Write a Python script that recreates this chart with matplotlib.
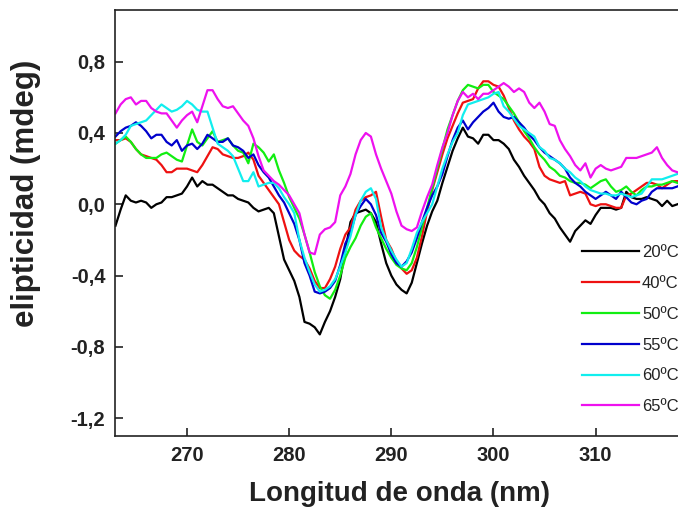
import numpy as np
import matplotlib
matplotlib.use("Agg")
import matplotlib.pyplot as plt

plt.rcParams['font.family'] = ['Liberation Sans', 'DejaVu Sans']

# longitud de onda (nm), paso 0.5
wl = np.arange(263.0, 318.5, 0.5)

t20 = [-0.12, -0.03, 0.05, 0.02, 0.01, 0.02, 0.01, -0.02, 0.00, 0.01,
       0.04, 0.04, 0.05, 0.06, 0.10, 0.15, 0.10, 0.13, 0.11, 0.11,
       0.09, 0.07, 0.05, 0.05, 0.03, 0.02, 0.01, -0.02, -0.04, -0.03,
       -0.02, -0.05, -0.18, -0.31, -0.37, -0.43, -0.52, -0.66, -0.67, -0.69,
       -0.73, -0.66, -0.60, -0.52, -0.42, -0.26, -0.10, -0.05, -0.04, -0.03,
       -0.05, -0.10, -0.22, -0.33, -0.40, -0.45, -0.48, -0.50, -0.44, -0.33,
       -0.22, -0.12, -0.04, 0.02, 0.12, 0.21, 0.30, 0.37, 0.43, 0.38,
       0.37, 0.34, 0.39, 0.39, 0.36, 0.36, 0.34, 0.31, 0.25, 0.21,
       0.16, 0.12, 0.08, 0.03, 0.00, -0.05, -0.08, -0.13, -0.17, -0.21,
       -0.15, -0.12, -0.09, -0.11, -0.06, -0.02, -0.02, -0.02, -0.03, -0.02,
       0.07, 0.04, 0.03, 0.03, 0.04, 0.03, 0.02, -0.01, 0.02, -0.01,
       0.00]
t40 = [0.36, 0.36, 0.37, 0.35, 0.31, 0.28, 0.27, 0.26, 0.25, 0.22,
       0.18, 0.18, 0.20, 0.20, 0.20, 0.19, 0.18, 0.22, 0.27, 0.32,
       0.31, 0.28, 0.27, 0.26, 0.26, 0.27, 0.29, 0.25, 0.16, 0.12,
       0.08, 0.04, 0.00, -0.10, -0.20, -0.26, -0.29, -0.31, -0.36, -0.43,
       -0.47, -0.47, -0.42, -0.35, -0.25, -0.17, -0.13, -0.03, 0.02, 0.04,
       0.05, 0.07, -0.07, -0.20, -0.25, -0.32, -0.36, -0.39, -0.37, -0.30,
       -0.18, -0.04, 0.08, 0.18, 0.28, 0.37, 0.44, 0.51, 0.57, 0.58,
       0.59, 0.65, 0.69, 0.69, 0.67, 0.66, 0.61, 0.54, 0.47, 0.42,
       0.38, 0.35, 0.31, 0.21, 0.16, 0.14, 0.13, 0.12, 0.13, 0.05,
       0.06, 0.07, 0.06, 0.00, -0.01, 0.00, 0.00, -0.01, -0.02, -0.02,
       0.05, 0.06, 0.08, 0.10, 0.12, 0.12, 0.11, 0.09, 0.11, 0.13,
       0.13]
t50 = [0.34, 0.36, 0.38, 0.35, 0.31, 0.28, 0.26, 0.26, 0.26, 0.28,
       0.29, 0.27, 0.25, 0.24, 0.33, 0.42, 0.35, 0.33, 0.37, 0.41,
       0.35, 0.36, 0.37, 0.33, 0.30, 0.29, 0.23, 0.34, 0.32, 0.29,
       0.24, 0.28, 0.19, 0.12, 0.04, -0.02, -0.08, -0.17, -0.27, -0.38,
       -0.46, -0.51, -0.53, -0.48, -0.40, -0.30, -0.24, -0.19, -0.12, -0.07,
       -0.05, -0.13, -0.19, -0.25, -0.30, -0.34, -0.36, -0.37, -0.33, -0.24,
       -0.13, -0.02, 0.09, 0.20, 0.31, 0.42, 0.50, 0.58, 0.64, 0.67,
       0.66, 0.65, 0.67, 0.67, 0.63, 0.61, 0.59, 0.55, 0.51, 0.46,
       0.41, 0.37, 0.32, 0.28, 0.25, 0.21, 0.19, 0.16, 0.15, 0.13,
       0.12, 0.12, 0.11, 0.09, 0.11, 0.13, 0.14, 0.10, 0.07, 0.08,
       0.10, 0.07, 0.05, 0.08, 0.10, 0.10, 0.11, 0.11, 0.12, 0.13,
       0.12]
t55 = [0.38, 0.41, 0.43, 0.44, 0.46, 0.44, 0.41, 0.37, 0.39, 0.39,
       0.35, 0.33, 0.36, 0.30, 0.33, 0.34, 0.31, 0.34, 0.39, 0.37,
       0.35, 0.35, 0.37, 0.33, 0.32, 0.30, 0.26, 0.28, 0.22, 0.18,
       0.15, 0.10, 0.05, 0.01, -0.05, -0.11, -0.20, -0.33, -0.40, -0.49,
       -0.50, -0.49, -0.47, -0.43, -0.34, -0.22, -0.16, -0.06, -0.01, 0.03,
       0.00, -0.06, -0.16, -0.21, -0.28, -0.33, -0.35, -0.32, -0.27, -0.19,
       -0.10, -0.02, 0.05, 0.10, 0.17, 0.27, 0.36, 0.43, 0.47, 0.42,
       0.46, 0.49, 0.52, 0.54, 0.57, 0.52, 0.49, 0.48, 0.49, 0.46,
       0.43, 0.39, 0.36, 0.32, 0.29, 0.27, 0.25, 0.23, 0.20, 0.15,
       0.12, 0.10, 0.07, 0.05, 0.03, 0.05, 0.07, 0.05, 0.03, 0.07,
       0.04, 0.01, 0.00, 0.02, 0.03, 0.07, 0.09, 0.09, 0.09, 0.09,
       0.10]
t60 = [0.34, 0.36, 0.39, 0.44, 0.45, 0.46, 0.47, 0.50, 0.53, 0.56,
       0.54, 0.52, 0.53, 0.55, 0.58, 0.56, 0.53, 0.52, 0.52, 0.43,
       0.34, 0.32, 0.30, 0.27, 0.20, 0.13, 0.13, 0.18, 0.10, 0.11,
       0.12, 0.12, 0.09, 0.04, 0.00, -0.05, -0.20, -0.30, -0.38, -0.45,
       -0.49, -0.48, -0.46, -0.42, -0.35, -0.27, -0.18, -0.06, 0.02, 0.07,
       0.09, 0.03, -0.13, -0.20, -0.26, -0.31, -0.35, -0.33, -0.25, -0.16,
       -0.10, -0.05, 0.00, 0.10, 0.20, 0.28, 0.35, 0.40, 0.50, 0.56,
       0.57, 0.58, 0.59, 0.60, 0.62, 0.63, 0.55, 0.52, 0.48, 0.44,
       0.42, 0.40, 0.38, 0.32, 0.30, 0.26, 0.25, 0.23, 0.20, 0.18,
       0.15, 0.13, 0.10, 0.08, 0.07, 0.06, 0.06, 0.05, 0.05, 0.06,
       0.05, 0.04, 0.05, 0.06, 0.10, 0.14, 0.14, 0.14, 0.15, 0.16,
       0.17]
t65 = [0.51, 0.56, 0.59, 0.60, 0.56, 0.58, 0.58, 0.54, 0.52, 0.51,
       0.51, 0.47, 0.43, 0.47, 0.50, 0.52, 0.46, 0.55, 0.64, 0.64,
       0.59, 0.55, 0.54, 0.55, 0.51, 0.47, 0.44, 0.37, 0.27, 0.19,
       0.16, 0.13, 0.11, 0.08, 0.05, 0.00, -0.05, -0.17, -0.27, -0.28,
       -0.17, -0.14, -0.13, -0.10, 0.05, 0.10, 0.17, 0.28, 0.36, 0.40,
       0.38, 0.28, 0.20, 0.13, 0.06, -0.04, -0.12, -0.14, -0.15, -0.13,
       -0.04, 0.04, 0.11, 0.22, 0.32, 0.40, 0.50, 0.58, 0.63, 0.60,
       0.62, 0.59, 0.62, 0.62, 0.64, 0.66, 0.68, 0.66, 0.63, 0.65,
       0.63, 0.57, 0.54, 0.57, 0.52, 0.45, 0.44, 0.36, 0.31, 0.27,
       0.22, 0.19, 0.23, 0.15, 0.20, 0.22, 0.20, 0.19, 0.20, 0.21,
       0.26, 0.26, 0.26, 0.27, 0.28, 0.29, 0.32, 0.26, 0.22, 0.19,
       0.18]

series = [t20, t40, t50, t55, t60, t65]
labels = ['20ºC', '40ºC', '50ºC', '55ºC', '60ºC', '65ºC']
colors = ['#000000', '#ee1111', '#11ee11', '#0000cc', '#11eeee', '#ee11ee']

xticks = [270, 280, 290, 300, 310]
yticks = [-1.2, -0.8, -0.4, 0.0, 0.4, 0.8]
yticklabels = ['-1,2', '-0,8', '-0,4', '0,0', '0,4', '0,8']

fig = plt.figure(figsize=(6.78, 5.14), dpi=100)
# el eje sigue mas alla del borde derecho (imagen recortada)
ax = fig.add_axes([115 / 678, 78 / 514, 593 / 678, 426 / 514])

for y, lab, c in zip(series, labels, colors):
    ax.plot(wl, y, color=c, lw=1.6, label=lab)

ax.set_xlim(262.95, 321)
ax.set_ylim(-1.3, 1.09)
ax.set_xticks(xticks)
ax.set_xticklabels([str(v) for v in xticks])
ax.set_yticks(yticks)
ax.set_yticklabels(yticklabels)

for s in ax.spines.values():
    s.set_linewidth(1.2)
    s.set_color('#222222')
ax.tick_params(direction='in', length=6, width=1.2, color='#222222',
               labelsize=14.5, pad=7)
for t in ax.get_xticklabels() + ax.get_yticklabels():
    t.set_fontweight('bold')
    t.set_color('#222222')

ax.set_xlabel('Longitud de onda (nm)', fontsize=20, fontweight='bold', color='#222222')
ax.xaxis.set_label_coords(0.479, -0.105)
ax.set_ylabel('elipticidad (mdeg)', fontsize=22.5, fontweight='bold', color='#222222')
ax.yaxis.set_label_coords(-0.125, 0.57)

leg = fig.legend(loc='upper left', bbox_to_anchor=(582 / 678, 1 - 245 / 514),
                 frameon=False, fontsize=12, handlelength=3.4, handletextpad=0.2,
                 labelspacing=0.95, borderpad=0, borderaxespad=0)
for t in leg.get_texts():
    t.set_color('#222222')

fig.savefig('out.png', dpi=100)
